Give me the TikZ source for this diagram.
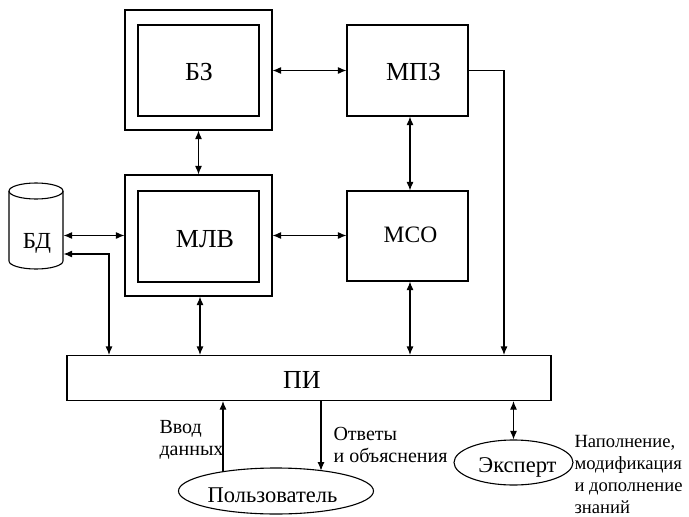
\documentclass[tikz,border=0pt]{standalone}
\usepackage{fontspec}
\setmainfont{Liberation Serif}
\usetikzlibrary{arrows.meta,shapes.geometric}
\begin{document}
\begin{tikzpicture}[x=1pt,y=-1pt,line width=1.1pt,
  box/.style={draw,rectangle,inner sep=0pt},
  arr/.style={-{Latex[length=8.5pt,width=7pt]}},
  barr/.style={{Latex[length=8.5pt,width=7pt]}-{Latex[length=8.5pt,width=7pt]}},
  big/.style={font=\fontsize{26}{30}\selectfont,inner sep=0pt,anchor=base},
  mid/.style={font=\fontsize{22.5}{26}\selectfont,inner sep=0pt,anchor=base},
  small/.style={font=\fontsize{20}{22}\selectfont,inner sep=0pt,align=left,anchor=base west}]
\useasboundingbox (0,0) rectangle (689,517);
% boxes
\node[box,minimum width=147pt,minimum height=120pt] (bzo) at (198.5,70) {};
\node[box,minimum width=121pt,minimum height=91pt] (bzi) at (198.5,70.5) {};
\node[box,minimum width=147pt,minimum height=121pt] (mlvo) at (198.5,235.5) {};
\node[box,minimum width=121pt,minimum height=91pt] (mlvi) at (198.5,236.5) {};
\node[box,minimum width=121pt,minimum height=91pt] (mpz) at (407.5,70.5) {};
\node[box,minimum width=121pt,minimum height=90pt] (mso) at (407.5,236) {};
\node[box,minimum width=484pt,minimum height=45pt] (pi) at (309,378) {};
\node[inner sep=0pt,minimum width=54pt,minimum height=86pt] (bd) at (36,226) {};
% cylinder
\draw (9,191) -- (9,261) arc[start angle=180,end angle=0,x radius=27,y radius=8] -- (63,191);
\draw (36,191) ellipse[x radius=27,y radius=8];
% ellipses
\node[draw,ellipse,minimum width=195pt,minimum height=46pt,inner sep=0pt] (user) at (276,491) {};
\node[draw,ellipse,minimum width=119pt,minimum height=45pt,inner sep=0pt] (exp) at (513.5,462.5) {};
% labels
\node[big] (bzt) at (199,80) {БЗ};
\node[big] (mpzt) at (413.5,80) {МПЗ};
\node[big] (mlvt) at (205,247) {МЛВ};
\node[big,font=\fontsize{23.5}{26}\selectfont] (msot) at (410.5,242) {МСО};
\node[big] (pit) at (302,388) {ПИ};
\node[mid,font=\fontsize{23}{26}\selectfont] (bdt) at (37,248) {БД};
\node[mid] (usert) at (272.5,502) {Пользователь};
\node[mid] (expt) at (517.5,472) {Эксперт};
\node[small] (lin) at (159,455) {Ввод\\данных};
\node[small] (lout) at (333,462) {Ответы\\и объяснения};
\node[small,font=\fontsize{18.6}{22}\selectfont] (lexp) at (574,513) {Наполнение,\\модификация\\и дополнение\\знаний};
% helper coordinates
\coordinate (c109) at (109,0);
\coordinate (c200) at (200,0);
\coordinate (c410) at (410,0);
\coordinate (c504) at (504,0);
\coordinate (r254) at (0,254);
\coordinate (uL) at (223,471.7);
\coordinate (uR) at (321,470.6);
% connectors
\draw[barr] (bzo.east |- mpz.west) -- (mpz.west);
\draw[barr] (bzo.south) -- (mlvo.north);
\draw[barr] (mpz.south -| c410) -- (mso.north -| c410);
\draw[barr] (mlvo.east) -- (mso.west |- mlvo.east);
\draw[barr] (bd.east |- mlvo.west) -- (mlvo.west);
\draw[barr] (bd.east |- r254) -| (pi.north -| c109);
\draw[barr] (mlvo.south -| c200) -- (pi.north -| c200);
\draw[barr] (mso.south -| c410) -- (pi.north -| c410);
\draw[arr] (mpz.east) -| (pi.north -| c504);
\draw[arr] (uL) -- (pi.south -| uL);
\draw[arr] (pi.south -| uR) -- (uR);
\draw[barr] (pi.south -| exp.north) -- (exp.north);
\end{tikzpicture}
\end{document}
